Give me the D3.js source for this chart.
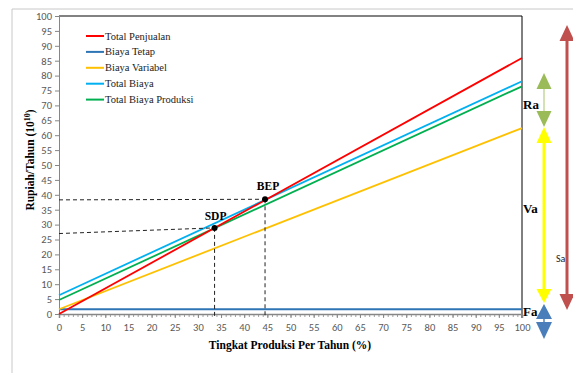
<!DOCTYPE html>
<html><head><meta charset="utf-8">
<script src="https://cdn.jsdelivr.net/npm/d3@7"></script>
<style>body{margin:0;background:#fff}svg{display:block}</style>
</head><body>
<svg id="c" width="573" height="373"></svg>
<script>
// ---- data ----
const xDomain = [0, 100];
const yDomain = [0, 100];
const xTicks = d3.range(0, 101, 5);
const yTicks = d3.range(0, 101, 5);
const seriesNames = ["Total Penjualan", "Biaya Tetap", "Biaya Variabel", "Total Biaya", "Total Biaya Produksi"];
const seriesColors = ["#ff0000", "#2e75b6", "#ffc000", "#00b0f0", "#00b050"];
const xPoints = [0, 100];
const totalPenjualan = [0, 85.9];
const biayaTetap = [1.6, 1.6];
const biayaVariabel = [1.6, 62.4];
const totalBiaya = [6.3, 78.1];
const totalBiayaProduksi = [4.7, 76.4];
const pointLabels = ["BEP", "SDP"];
const pointX = [44.5, 33.6];
const pointY = [38.5, 28.9];
const dashStartY = [38.3, 27.0];
const sideLabels = ["Ra", "Va", "Fa"];

const svg = d3.select("#c");
const m = {l: 59, r: 522, t: 16, b: 314};
const x = d3.scaleLinear().domain(xDomain).range([m.l, m.r]);
const y = d3.scaleLinear().domain(yDomain).range([m.b, m.t]);

// outer frame
svg.append("line").attr("x1", 12).attr("x2", 12).attr("y1", 9).attr("y2", 373).attr("stroke", "#c8c8c8");
svg.append("line").attr("x1", 12).attr("x2", 573).attr("y1", 9).attr("y2", 9).attr("stroke", "#c8c8c8");

// plot frame
svg.append("line").attr("x1", m.l).attr("x2", m.r).attr("y1", m.t).attr("y2", m.t).attr("stroke", "#595959").attr("stroke-width", 1.5);
svg.append("line").attr("x1", m.r).attr("x2", m.r).attr("y1", m.t).attr("y2", 318).attr("stroke", "#000").attr("stroke-width", 1);

const tickFont = "Carlito, 'Liberation Sans Narrow', 'Liberation Sans', sans-serif";

// y axis
const ya = svg.append("g").attr("transform", `translate(${m.l},0)`)
  .call(d3.axisLeft(y).tickValues(yTicks).tickSize(4).tickPadding(3));
ya.select(".domain").attr("stroke", "#868686");
ya.selectAll(".tick line").attr("stroke", "#868686");
ya.selectAll("text").attr("fill", "#595959").style("font-family", tickFont).style("font-size", "10.5px");

// x axis minor
svg.append("g").attr("transform", `translate(0,${m.b})`)
  .call(d3.axisBottom(x).tickValues(d3.range(0, 101, 1)).tickSize(3).tickFormat(""))
  .call(g => { g.select(".domain").remove(); g.selectAll(".tick line").attr("stroke", "#a0a0a0"); });
const xa = svg.append("g").attr("transform", `translate(0,${m.b})`)
  .call(d3.axisBottom(x).tickValues(xTicks).tickSize(4).tickPadding(6));
xa.select(".domain").attr("stroke", "#868686").attr("stroke-width", 1.5);
xa.selectAll(".tick line").attr("stroke", "#868686");
xa.selectAll("text").attr("fill", "#595959").style("font-family", tickFont).style("font-size", "10.5px");

// series
const seriesData = [totalPenjualan, biayaTetap, biayaVariabel, totalBiaya, totalBiayaProduksi];
const line = d3.line().x((d, i) => x(xPoints[i])).y(d => y(d));
const order = [1, 2, 4, 3, 0];
order.forEach(k => {
  svg.append("path").datum(seriesData[k]).attr("d", line)
    .attr("fill", "none").attr("stroke", seriesColors[k]).attr("stroke-width", 1.8);
});

// dashed guides
pointLabels.forEach((lab, i) => {
  svg.append("line").attr("x1", x(0)).attr("y1", y(dashStartY[i])).attr("x2", x(pointX[i])).attr("y2", y(pointY[i]))
    .attr("stroke", "#222").attr("stroke-dasharray", "4,3").attr("stroke-width", 1);
  svg.append("line").attr("x1", x(pointX[i])).attr("y1", y(pointY[i])).attr("x2", x(pointX[i])).attr("y2", y(0) + 4)
    .attr("stroke", "#222").attr("stroke-dasharray", "4,3").attr("stroke-width", 1);
  svg.append("circle").attr("cx", x(pointX[i])).attr("cy", y(pointY[i])).attr("r", 3).attr("fill", "#000");
  svg.append("text").attr("x", x(pointX[i]) + (i === 0 ? 3 : 1)).attr("y", y(pointY[i]) - (i === 0 ? 9 : 8))
    .attr("text-anchor", "middle").style("font-family", "'Liberation Serif', serif").style("font-weight", "bold")
    .style("font-size", "11.5px").text(lab);
});

// legend
const lg = svg.append("g");
seriesNames.forEach((n, i) => {
  const yy = 36 + i * 15.9;
  lg.append("line").attr("x1", 86).attr("x2", 104).attr("y1", yy).attr("y2", yy).attr("stroke", seriesColors[i]).attr("stroke-width", 2);
  lg.append("text").attr("x", 105).attr("y", yy + 3.5).style("font-family", "'Liberation Serif', serif")
    .style("font-size", "10.5px").attr("fill", "#222").text(n);
});

// axis titles
svg.append("text").attr("x", 290).attr("y", 349).attr("text-anchor", "middle")
  .style("font-family", "'Liberation Serif', serif").style("font-weight", "bold").style("font-size", "11.5px")
  .text("Tingkat Produksi Per Tahun (%)");
const yt = svg.append("text").attr("transform", "translate(34,160) rotate(-90)").attr("text-anchor", "middle")
  .style("font-family", "'Liberation Serif', serif").style("font-weight", "bold").style("font-size", "11.5px");
yt.append("tspan").text("Rupiah/Tahun (10");
yt.append("tspan").attr("dy", -4).style("font-size", "8px").text("10");
yt.append("tspan").attr("dy", 4).text(")");

// side labels
const sideY = [109, 213, 316];
sideLabels.forEach((s, i) => {
  svg.append("text").attr("x", 523).attr("y", sideY[i]).style("font-family", "'Liberation Serif', serif")
    .style("font-weight", "bold").style("font-size", "13px").text(s);
});

// arrows
function tri(cx, tipY, baseY, w, color) {
  svg.append("path").attr("d", `M${cx},${tipY}L${cx - w / 2},${baseY}L${cx + w / 2},${baseY}Z`).attr("fill", color);
}
// green (Ra)
svg.append("line").attr("x1", 544).attr("x2", 544).attr("y1", 85).attr("y2", 115).attr("stroke", "#c4d79b").attr("stroke-width", 1.5);
tri(544, 73, 89, 15, "#9bbb59");
tri(544, 127, 111, 15, "#9bbb59");
// yellow (Va)
svg.append("line").attr("x1", 544).attr("x2", 544).attr("y1", 140).attr("y2", 292).attr("stroke", "#ffff00").attr("stroke-width", 3);
tri(544, 127, 143, 15, "#ffff00");
tri(544, 303, 289, 15, "#ffff00");
// blue (Fa)
svg.append("line").attr("x1", 544).attr("x2", 544).attr("y1", 315).attr("y2", 326).attr("stroke", "#4f81bd").attr("stroke-width", 1.5);
tri(544, 304, 319, 16, "#4a7ebb");
tri(544, 339, 322, 16, "#4a7ebb");
// red (Sa)
svg.append("line").attr("x1", 567).attr("x2", 567).attr("y1", 38).attr("y2", 298).attr("stroke", "#c0504d").attr("stroke-width", 3);
tri(567, 25, 41, 15, "#c0504d");
tri(567, 310, 294, 15, "#c0504d");
svg.append("text").attr("x", 556).attr("y", 262).style("font-family", tickFont).style("font-size", "10px").attr("fill", "#222").text("Sa");
</script>
</body></html>
